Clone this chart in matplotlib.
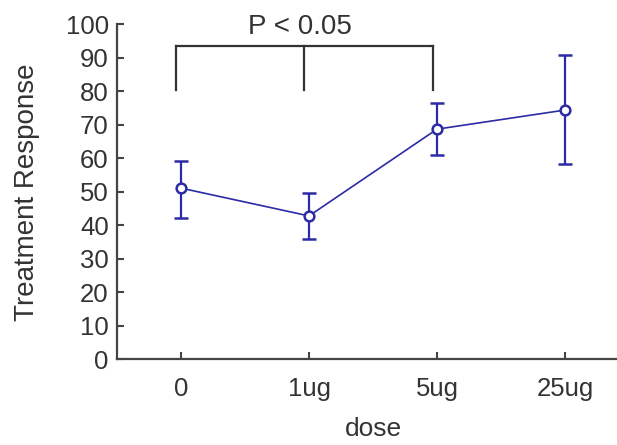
import matplotlib
matplotlib.use("Agg")
import matplotlib.pyplot as plt
import numpy as np

doses = ["0", "1ug", "5ug", "25ug"]
means = [51.1, 42.8, 68.7, 74.4]
upper = [59.3, 49.6, 76.4, 90.8]
lower = [42.1, 35.8, 61.0, 58.2]
yticks = [0, 10, 20, 30, 40, 50, 60, 70, 80, 90, 100]

plt.rcParams['font.family'] = ['Liberation Sans', 'DejaVu Sans']

W, H = 617, 445
fig = plt.figure(figsize=(W / 100, H / 100), dpi=100)
left_px, right_px = 117, 629
top_px, bot_px = 24.3, 359.3
ax = fig.add_axes([left_px / W, 1 - bot_px / H, (right_px - left_px) / W, (bot_px - top_px) / H])

x = np.arange(len(doses))
means_a = np.array(means)
yerr = np.vstack([means_a - np.array(lower), np.array(upper) - means_a])
blue = "#2b2ba6"
ax.errorbar(x, means_a, yerr=yerr, color=blue, lw=1.2, elinewidth=1.6, capsize=5, capthick=1.6,
            marker="o", markersize=7, markerfacecolor="white", markeredgecolor=blue,
            markeredgewidth=1.8, zorder=3)

ax.set_xlim(-0.5, 3.5)
ax.set_ylim(0, 100)
ax.set_xticks(x)
ax.set_xticklabels(doses)
ax.set_yticks(yticks)

for s in ["top", "right"]:
    ax.spines[s].set_visible(False)
for s in ["left", "bottom"]:
    ax.spines[s].set_color("#444444")
    ax.spines[s].set_linewidth(1.6)

ax.tick_params(direction="in", length=5, width=1.5, color="#444444", labelsize=18.5,
               labelcolor="#333333")
ax.tick_params(axis="x", pad=13)
ax.tick_params(axis="y", pad=6)

ax.set_ylabel("Treatment Response", fontsize=20, color="#333333")
ax.yaxis.set_label_coords(-0.15, 0.5)
ax.set_xlabel("dose", fontsize=19, color="#333333", labelpad=11)

# significance bracket
bc = "#333333"
bx = [-0.04, 0.96, 1.97]
ytop, ybot = 93.6, 80.4
ax.plot([bx[0], bx[2]], [ytop, ytop], color=bc, lw=1.6, clip_on=False)
for xb in bx:
    ax.plot([xb, xb], [ybot, ytop], color=bc, lw=1.6, clip_on=False)
ax.text(0.93, 99.3, "P < 0.05", ha="center", va="center", fontsize=20, color="#333333", clip_on=False)

fig.savefig("out.png", dpi=100)
